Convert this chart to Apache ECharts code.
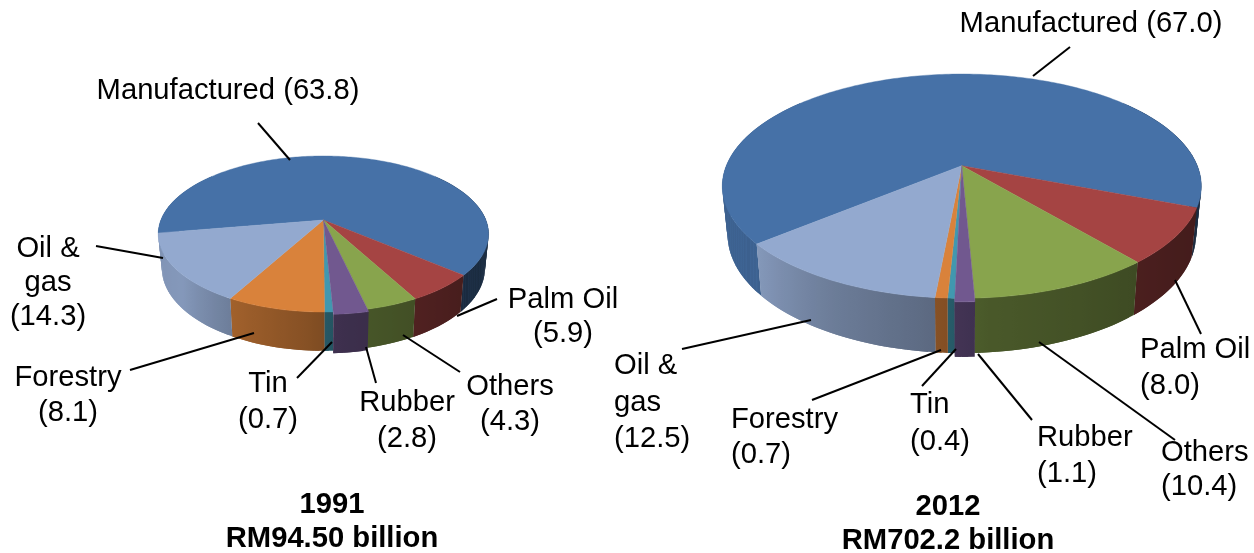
<!DOCTYPE html>
<html>
<head>
<meta charset="utf-8">
<style>html,body{margin:0;padding:0;background:#fff}#c{width:1254px;height:553px}</style>
<script src="https://cdn.jsdelivr.net/npm/echarts@6/dist/echarts.min.js"></script>
</head>
<body>
<div id="c"></div>
<script>
// ---- data ----
const sectors = ['Manufactured', 'Palm Oil', 'Others', 'Rubber', 'Tin', 'Forestry', 'Oil & gas'];
const shares1991 = [63.8, 5.9, 4.3, 2.8, 0.7, 8.1, 14.3];
const shares2012 = [67.0, 8.0, 10.4, 1.1, 0.4, 0.7, 12.5];
const title1991 = ['1991', 'RM94.50 billion'];
const title2012 = ['2012', 'RM702.2 billion'];

// ---- style ----
const topColors = ['#4671a7', '#a54443', '#88a44d', '#71588f', '#4198af', '#d9823b', '#93a9cf'];
const pop = [1, 1, 1, 1.022, 1, 1, 1];
const shadeKeys = [[0, .36], [90, .38], [130, .43], [175, .54], [185, .62], [208, .74], [230, .9], [270, .85], [360, .85]];
const fontFamily = '"Liberation Sans", Arial, sans-serif';
const fontSize = 29.2;
const textNudge = 2;

// ---- layout ----
const pie1991 = { cx: 323.4, cy: 220, R: 162.5, Ry: 75.5, k: 0.1795, h: 33.5, s: 0.978, start: 260.4 };
const pie2012 = { cx: 961.8, cy: 165.7, R: 235.5, Ry: 108.4, k: 0.1824, h: 47.2, s: 0.978, start: 230.3 };
const frontFrom = 50, frontTo = 310;

function shade(a) {
  a = ((a % 360) + 360) % 360;
  for (let i = 1; i < shadeKeys.length; i++) {
    if (a <= shadeKeys[i][0]) {
      const p = shadeKeys[i - 1], q = shadeKeys[i];
      return p[1] + (q[1] - p[1]) * (a - p[0]) / (q[0] - p[0]);
    }
  }
  return .4;
}
function mul(hex, f) {
  const n = parseInt(hex.slice(1), 16);
  const c = [n >> 16, (n >> 8) & 255, n & 255].map(v => Math.round(v * f));
  return 'rgb(' + c.join(',') + ')';
}
function project(p, deg, radial, bottom) {
  const t = deg * Math.PI / 180;
  const u = Math.sin(t) * radial, v = -Math.cos(t) * radial;
  const w = 1 - p.k * v;
  const s = bottom ? p.s : 1;
  return [p.cx + p.R * s * u / w, p.cy + p.Ry * s * v / w + (bottom ? p.h / w : 0)];
}
// the parts of a slice's arc that face the viewer
function frontParts(a0, a1) {
  const parts = [];
  for (const off of [-360, 0, 360]) {
    const b0 = Math.max(a0, frontFrom + off), b1 = Math.min(a1, frontTo + off);
    if (b1 > b0) parts.push([b0, b1]);
  }
  return parts;
}
// one wall part: overlapping strips that all share one horizontal gradient
function wallStrips(p, color, r, b0, b1, z2) {
  const m = Math.max(2, Math.ceil((b1 - b0) / 1.5));
  const angles = [];
  for (let j = 0; j <= m; j++) angles.push(b0 + (b1 - b0) * j / m);
  const xs = angles.map(a => project(p, a, r, false)[0]);
  const xMin = Math.min.apply(null, xs), xMax = Math.max.apply(null, xs);
  const span = Math.max(1, xMax - xMin);
  const colorStops = angles
    .map((a, j) => ({ offset: (xs[j] - xMin) / span, color: mul(color, shade(a)) }))
    .sort((x, y) => x.offset - y.offset);
  const fill = { type: 'linear', x: xMin, y: 0, x2: xMin + span, y2: 0, global: true, colorStops };
  const strips = [];
  for (let j = 0; j < m; j++) {
    const c0 = angles[j], c1 = angles[Math.min(m, j + 2)];
    strips.push({
      type: 'polygon', z2,
      shape: { points: [project(p, c0, r, false), project(p, c1, r, false), project(p, c1, r, true), project(p, c0, r, true)] },
      style: { fill, lineWidth: 0 }
    });
  }
  return strips;
}

function pieSeries(values, p) {
  const total = values.reduce((a, b) => a + b, 0);
  return {
    type: 'custom',
    coordinateSystem: 'none',
    silent: true,
    animation: false,
    data: values.map((v, i) => ({ name: sectors[i], value: [v] })),
    renderItem(params, api) {
      const i = params.dataIndex;
      let before = 0;
      for (let j = 0; j < i; j++) before += values[j];
      const a0 = p.start + before / total * 360;
      const a1 = a0 + api.value(0) / total * 360;
      const color = topColors[i], r = pop[i], lift = r > 1 ? 1 : 0;
      const children = [];
      frontParts(a0, a1).forEach(q => children.push.apply(children, wallStrips(p, color, r, q[0], q[1], 1 + lift)));
      // top face
      const pts = [[p.cx, p.cy]];
      const m = Math.max(2, Math.ceil(a1 - a0));
      for (let j = 0; j <= m; j++) pts.push(project(p, a0 + (a1 - a0) * j / m, r, false));
      children.push({
        type: 'polygon', z2: 5 + lift,
        shape: { points: pts },
        style: { fill: color, stroke: color, lineWidth: .4 }
      });
      return { type: 'group', children };
    }
  };
}

// ---- annotation layout: [label lines, x, y of first line centre, align, line height] ----
const v91 = shares1991.map(v => '(' + v.toFixed(1) + ')');
const v12 = shares2012.map(v => '(' + v.toFixed(1) + ')');
const labels = [
  [sectors[0] + ' ' + v91[0], 228, 89, 'center', 35],
  ['Oil &\ngas\n' + v91[6], 48, 247, 'center', 34],
  [sectors[1] + '\n' + v91[1], 563, 298, 'center', 34],
  [sectors[2] + '\n' + v91[2], 510, 385, 'center', 35],
  [sectors[3] + '\n' + v91[3], 407, 401, 'center', 36],
  [sectors[4] + '\n' + v91[4], 268, 382, 'center', 36],
  [sectors[5] + '\n' + v91[5], 68, 376, 'center', 35],
  [sectors[0] + ' ' + v12[0], 1091, 22, 'center', 35],
  [sectors[1] + '\n' + v12[1], 1140, 348, 'left', 36],
  [sectors[2] + '\n' + v12[2], 1161, 451, 'left', 34],
  [sectors[3] + '\n' + v12[3], 1037, 436, 'left', 36],
  [sectors[4] + '\n' + v12[4], 910, 403, 'left', 37],
  [sectors[5] + '\n' + v12[5], 731, 418, 'left', 35],
  ['Oil &\ngas\n' + v12[6], 614, 364, 'left', 36.5]
];
const leaders = [
  [258, 123, 290, 160], [96, 246, 163, 258], [497, 299, 457, 316], [403, 335, 460, 372],
  [366, 347, 376, 383], [332, 342, 297, 378], [130, 370, 254, 333],
  [1070, 47, 1033, 76], [1175, 280, 1201, 334], [1039, 342, 1175, 440], [978, 354, 1032, 420],
  [956, 349, 922, 386], [941, 350, 812, 400], [811, 320, 682, 349]
];
const titles = [[title1991, 332, 503], [title2012, 948, 505]];

const graphics = [];
leaders.forEach(l => graphics.push({
  type: 'line', z: 10, silent: true,
  shape: { x1: l[0], y1: l[1], x2: l[2], y2: l[3] },
  style: { stroke: '#000', lineWidth: 2 }
}));
labels.forEach(l => graphics.push({
  type: 'text', z: 10, silent: true, x: l[1], y: l[2] - l[4] / 2 + textNudge,
  style: { text: l[0], font: fontSize + 'px ' + fontFamily, fill: '#000', textAlign: l[3], textVerticalAlign: 'top', lineHeight: l[4] }
}));
titles.forEach(t => graphics.push({
  type: 'text', z: 10, silent: true, x: t[1], y: t[2] - 17 + textNudge,
  style: { text: t[0].join('\n'), font: 'bold ' + fontSize + 'px ' + fontFamily, fill: '#000', textAlign: 'center', textVerticalAlign: 'top', lineHeight: 34 }
}));

const chart = echarts.init(document.getElementById('c'), null, { renderer: 'canvas' });
chart.setOption({
  backgroundColor: '#fff',
  animation: false,
  series: [pieSeries(shares1991, pie1991), pieSeries(shares2012, pie2012)],
  graphic: { elements: graphics }
});
</script>
</body>
</html>
